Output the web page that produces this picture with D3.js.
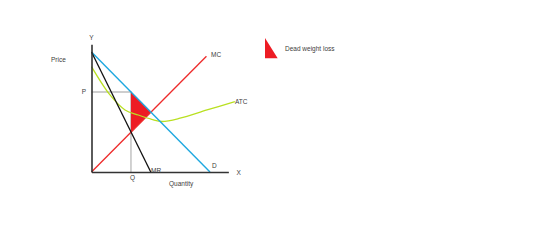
<!DOCTYPE html>
<html>
<head>
<meta charset="utf-8">
<script src="https://cdn.jsdelivr.net/npm/d3@7"></script>
<style>
  body { margin: 0; background: #fff; }
  text { font-family: "Liberation Sans", Arial, sans-serif; font-size: 6.5px; fill: #404040; }
</style>
</head>
<body>
<svg id="chart" width="560" height="250"></svg>
<script>
// curves in (quantity, price) units
const demand = [[0, 10], [10, 0]];
const marginalRevenue = [[0, 10], [5, 0]];
const marginalCost = [[0, 0], [9.7, 9.65]];
const averageTotalCost = [
  [0, 8.78], [1.56, 6.42], [2.83, 5.17], [3.95, 4.75], [5.08, 4.39],
  [5.95, 4.21], [7.47, 4.48], [9.75, 5.17], [12.1, 5.86]
];
const monopolyQ = 3.33;
const monopolyP = 6.67;
const deadWeightLoss = [[3.33, 6.67], [3.33, 3.33], [5, 5]];
const curveLabels = ["D", "MR", "MC", "ATC"];

const svg = d3.select("#chart");
const x = d3.scaleLinear().domain([0, 10]).range([91.5, 210]);
const y = d3.scaleLinear().domain([0, 10]).range([172, 52]);

const line = d3.line().x(d => x(d[0])).y(d => y(d[1]));

// guide lines for P and Q
svg.append("path")
  .attr("d", line([[0, monopolyP], [monopolyQ, monopolyP], [monopolyQ, 0]]))
  .attr("fill", "none").attr("stroke", "#bfbfbf").attr("stroke-width", 1.4);

// dead weight loss triangle
svg.append("path")
  .attr("d", line(deadWeightLoss) + "Z")
  .attr("fill", "#ed1c24");

// curves
svg.append("path").attr("d", line(marginalCost))
  .attr("fill", "none").attr("stroke", "#ee2a2a").attr("stroke-width", 1.3);
svg.append("path").attr("d", line.curve(d3.curveCatmullRom)(averageTotalCost))
  .attr("fill", "none").attr("stroke", "#b9e021").attr("stroke-width", 1.3);
line.curve(d3.curveLinear);
svg.append("path").attr("d", line(demand))
  .attr("fill", "none").attr("stroke", "#1ea8e0").attr("stroke-width", 1.4);
svg.append("path").attr("d", line(marginalRevenue))
  .attr("fill", "none").attr("stroke", "#111").attr("stroke-width", 1.3);

// axes
const xAxisScale = d3.scaleLinear().domain([0, 11.55]).range([x(0), x(11.55)]);
const yAxisScale = d3.scaleLinear().domain([0, 10.65]).range([y(0), y(10.65)]);
svg.append("g").attr("transform", `translate(0,${y(0)})`)
  .call(d3.axisBottom(xAxisScale).ticks(0).tickSizeOuter(0))
  .select(".domain").attr("stroke", "#333").attr("stroke-width", 1.6);
svg.append("g").attr("transform", `translate(${x(0)},0)`)
  .call(d3.axisLeft(yAxisScale).ticks(0).tickSizeOuter(0))
  .select(".domain").attr("stroke", "#333").attr("stroke-width", 1.6);

// labels
function label(txt, px, py, anchor = "start") {
  svg.append("text").attr("x", px).attr("y", py)
    .attr("text-anchor", anchor).attr("dominant-baseline", "central").text(txt);
}
label("Y", x(0), 37, "middle");
label("X", 236.5, y(0));
label("Price", 51, 59);
label("Quantity", 169, 183);
label("P", 84, y(monopolyP), "middle");
label("Q", x(monopolyQ) + 1.5, 177.5, "middle");
label(curveLabels[0], 212, 165);
label(curveLabels[1], 151, 170);
label(curveLabels[2], 211, 54);
label(curveLabels[3], x(12.1), y(5.86));

// legend
svg.append("path")
  .attr("d", "M265,38L265,58.3L277.7,58.3Z")
  .attr("fill", "#ed1c24");
label("Dead weight loss", 285, 48);
</script>
</body>
</html>
